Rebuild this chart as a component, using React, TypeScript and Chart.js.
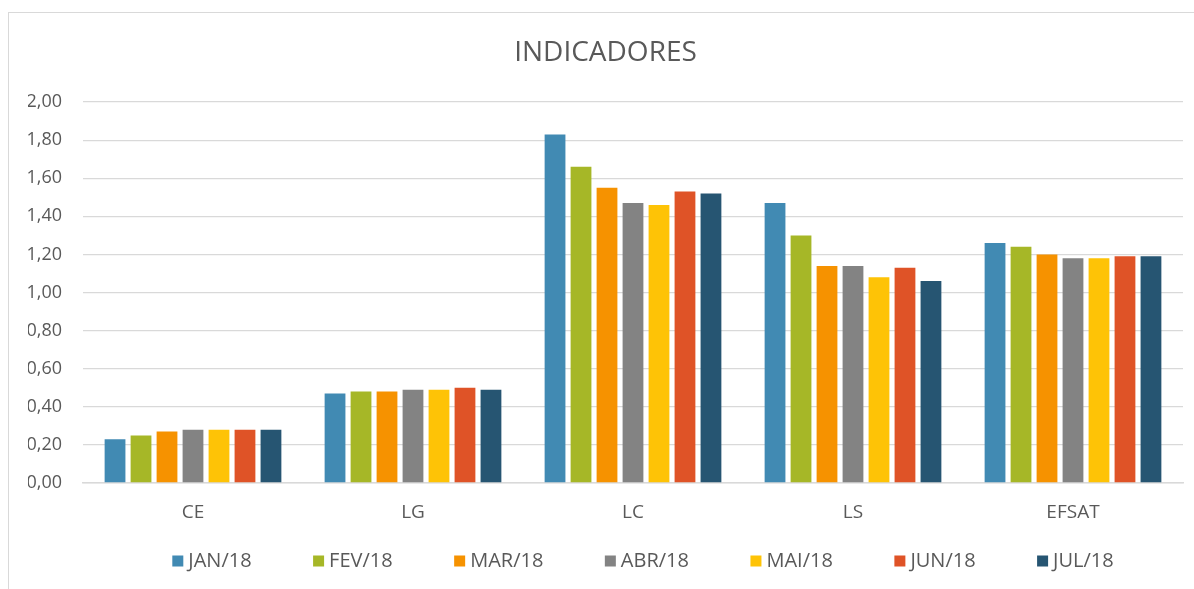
import React, { useEffect, useRef } from "react";
import { Chart, registerables } from "chart.js";

Chart.register(...registerables);

const categories = ["CE", "LG", "LC", "LS", "EFSAT"];
const seriesNames = ["JAN/18", "FEV/18", "MAR/18", "ABR/18", "MAI/18", "JUN/18", "JUL/18"];
const seriesColors = ["#418AB3", "#A6B727", "#F69200", "#838383", "#FEC306", "#DF5327", "#265572"];

const jan18 = [0.23, 0.47, 1.83, 1.47, 1.26];
const fev18 = [0.25, 0.48, 1.66, 1.30, 1.24];
const mar18 = [0.27, 0.48, 1.55, 1.14, 1.20];
const abr18 = [0.28, 0.49, 1.47, 1.14, 1.18];
const mai18 = [0.28, 0.49, 1.46, 1.08, 1.18];
const jun18 = [0.28, 0.50, 1.53, 1.13, 1.19];
const jul18 = [0.28, 0.49, 1.52, 1.06, 1.19];

const seriesValues = [jan18, fev18, mar18, abr18, mai18, jun18, jul18];

const TEXT = "#595959";
const GRID = "#D9D9D9";
const FONT = '"Open Sans", "DejaVu Sans", sans-serif';

const frameAndLegend = {
  id: "frameAndLegend",
  beforeDraw(chart: any) {
    const ctx = chart.ctx;
    ctx.save();
    ctx.fillStyle = "#FFFFFF";
    ctx.fillRect(0, 0, chart.width, chart.height);
    ctx.strokeStyle = GRID;
    ctx.lineWidth = 1;
    ctx.strokeRect(8.5, 12.5, 1300, 700);
    ctx.restore();
  },
  afterDraw(chart: any) {
    const ctx = chart.ctx;
    ctx.save();
    ctx.font = `20px ${FONT}`;
    const box = 11;
    const boxGap = 5;
    const itemGap = 61.5;
    const widths = seriesNames.map((n) => ctx.measureText(n).width);
    const total =
      widths.reduce((a, w) => a + box + boxGap + w, 0) + itemGap * (seriesNames.length - 1);
    let x = 643 - total / 2;
    const cy = 561;
    seriesNames.forEach((name, i) => {
      ctx.fillStyle = seriesColors[i];
      ctx.fillRect(x, cy - box / 2, box, box);
      ctx.fillStyle = TEXT;
      ctx.textBaseline = "middle";
      ctx.textAlign = "left";
      ctx.fillText(name, x + box + boxGap, cy);
      x += box + boxGap + widths[i] + itemGap;
    });
    ctx.restore();
  },
};

export default function App() {
  const ref = useRef<HTMLCanvasElement | null>(null);

  useEffect(() => {
    document.body.style.margin = "0";
    const canvas = ref.current;
    if (!canvas) return;
    const chart = new Chart(canvas, {
      type: "bar",
      data: {
        labels: categories,
        datasets: seriesNames.map((name, i) => ({
          label: name,
          data: seriesValues[i],
          backgroundColor: seriesColors[i],
          borderWidth: 0,
          categoryPercentage: 0.827,
          barPercentage: 0.8,
        })),
      },
      options: {
        animation: false,
        responsive: false,
        maintainAspectRatio: false,
        devicePixelRatio: 1,
        layout: { padding: { left: 28, right: 11, top: 0, bottom: 0 } },
        plugins: {
          legend: { display: false },
          tooltip: { enabled: false },
          title: {
            display: true,
            text: "INDICADORES",
            color: TEXT,
            font: { family: FONT, size: 28, weight: "normal" },
            padding: { top: 36.5, bottom: 32 },
          },
        },
        scales: {
          x: {
            grid: { display: false, drawTicks: false },
            border: { color: GRID, width: 1.5 },
            ticks: {
              color: TEXT,
              font: { family: FONT, size: 19 },
              padding: 18,
            },
            afterFit: (scale: any) => {
              scale.height = 106;
            },
          },
          y: {
            min: 0,
            max: 2,
            grid: { color: GRID, lineWidth: 1.3, drawTicks: false },
            border: { display: false },
            ticks: {
              stepSize: 0.2,
              color: TEXT,
              font: { family: FONT, size: 18 },
              padding: 21,
              callback: (v: any) => Number(v).toFixed(2).replace(".", ","),
            },
            afterFit: (scale: any) => {
              scale.width = 55;
            },
          },
        },
      },
      plugins: [frameAndLegend],
    });
    if ((document as any).fonts && (document as any).fonts.ready) {
      (document as any).fonts.ready.then(() => chart.update());
    }
    return () => chart.destroy();
  }, []);

  return (
    <div style={{ width: 1194, height: 589 }}>
      <canvas ref={ref} width={1194} height={589} style={{ display: "block", width: 1194, height: 589 }} />
    </div>
  );
}
